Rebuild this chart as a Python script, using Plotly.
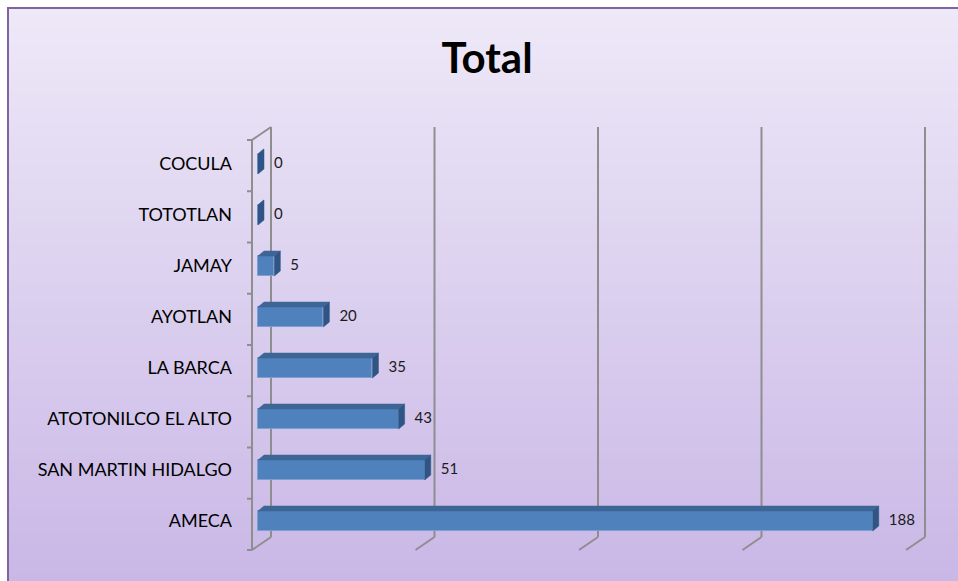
import plotly.graph_objects as go

# ---- data ----
categories = ["AMECA", "SAN MARTIN HIDALGO", "ATOTONILCO EL ALTO", "LA BARCA",
              "AYOTLAN", "JAMAY", "TOTOTLAN", "COCULA"]
values = [188, 51, 43, 35, 20, 5, 0, 0]
grid_values = [0, 50, 100, 150, 200]
title_text = "Total"

# ---- geometry (page pixels; body margin removed by post_script) ----
W, H = 958, 581
L, R, T, B = 240, 18, 100, 11
SX = 3.27      # px per value unit
SY = 51.0      # px per category step
X0 = 258       # pixel of value 0 (bar front)
Y0 = 521       # pixel of first category centre

def ux(px):
    return px / SX

def uy(px):
    return px / SY

xr = [(L - X0) / SX, (W - R - X0) / SX]
yr = [(Y0 - (H - B)) / SY, (Y0 - T) / SY]

idx = list(range(len(categories)))

BAR_H = uy(20) / 2
BDX, BDY = ux(6), uy(5)
FLOOR_FRONT_X = ux(-6)
BACK_DX = ux(13)
FRONT_BOTTOM_Y = uy(Y0 - 550)
BACK_BOTTOM_Y = uy(Y0 - 537)
BACK_TOP_Y = uy(Y0 - 127)
FRONT_TOP_Y = uy(Y0 - 140)

GRID = "#8e8e8e"
shapes = []

def fy(p):
    return ((H - B) - p) / (H - T - B)

def fx(p):
    return (p - L) / (W - L - R)

top_c = (238, 233, 248)
bot_c = (201, 183, 230)
n = 80
y_start = 7
for k in range(n):
    a = y_start + (H - y_start) * k / n
    b = y_start + (H - y_start) * (k + 1) / n + 1.5
    t = (k + 0.5) / n
    c = tuple(round(top_c[i] + (bot_c[i] - top_c[i]) * t) for i in range(3))
    shapes.append(dict(type="rect", xref="paper", yref="paper", layer="below",
                       x0=fx(7), x1=fx(W + 2), y0=fy(b), y1=fy(a),
                       line=dict(width=0), fillcolor="rgb(%d,%d,%d)" % c))
# frame (only left and top edges are visible)
FRAME = "#8064a2"
shapes.append(dict(type="line", xref="paper", yref="paper", layer="below",
                   x0=fx(8), x1=fx(8), y0=fy(H + 5), y1=fy(7),
                   line=dict(color=FRAME, width=2)))
shapes.append(dict(type="line", xref="paper", yref="paper", layer="below",
                   x0=fx(7), x1=fx(W + 5), y0=fy(8), y1=fy(8),
                   line=dict(color=FRAME, width=2)))

# gridlines (back wall + floor diagonal)
for g in grid_values:
    xb = g + BACK_DX
    xf = g + FLOOR_FRONT_X
    shapes.append(dict(type="line", xref="x", yref="y", layer="below",
                       x0=xb, x1=xb, y0=BACK_BOTTOM_Y, y1=BACK_TOP_Y,
                       line=dict(color=GRID, width=2)))
    shapes.append(dict(type="line", xref="x", yref="y", layer="below",
                       x0=xb, x1=xf, y0=BACK_BOTTOM_Y, y1=FRONT_BOTTOM_Y,
                       line=dict(color=GRID, width=2)))
shapes.append(dict(type="line", xref="x", yref="y", layer="below",
                   x0=FLOOR_FRONT_X, x1=FLOOR_FRONT_X, y0=FRONT_BOTTOM_Y, y1=FRONT_TOP_Y,
                   line=dict(color=GRID, width=2)))
shapes.append(dict(type="line", xref="x", yref="y", layer="below",
                   x0=FLOOR_FRONT_X, x1=BACK_DX, y0=FRONT_TOP_Y, y1=BACK_TOP_Y,
                   line=dict(color=GRID, width=2)))
step = (FRONT_TOP_Y - FRONT_BOTTOM_Y) / len(categories)
for k in range(len(categories) + 1):
    yy = FRONT_BOTTOM_Y + k * step
    shapes.append(dict(type="line", xref="x", yref="y", layer="below",
                       x0=FLOOR_FRONT_X - ux(5), x1=FLOOR_FRONT_X, y0=yy, y1=yy,
                       line=dict(color=GRID, width=2)))

# 3D faces of bars
top_x, top_y, side_x, side_y = [], [], [], []
for i, v in zip(idx, values):
    yt, yb = i + BAR_H, i - BAR_H
    top_x += [0, v, v + BDX, BDX, 0, None]
    top_y += [yt, yt, yt + BDY, yt + BDY, yt, None]
    side_x += [v, v, v + BDX, v + BDX, v, None]
    side_y += [yb, yt, yt + BDY, yb + BDY, yb, None]

fig = go.Figure()
fig.add_trace(go.Bar(
    y=idx, x=values, orientation="h", width=2 * BAR_H,
    marker=dict(color="#4f81bd", line=dict(color="#7d9fd0", width=1)),
    hoverinfo="skip", showlegend=False))
fig.add_trace(go.Scatter(x=top_x, y=top_y, mode="lines", fill="toself",
                         fillcolor="#3d6696", line=dict(color="#3d6696", width=0.5),
                         hoverinfo="skip", showlegend=False))
fig.add_trace(go.Scatter(x=side_x, y=side_y, mode="lines", fill="toself",
                         fillcolor="#2f5585", line=dict(color="#2f5585", width=0.5),
                         hoverinfo="skip", showlegend=False))
fig.add_trace(go.Scatter(
    x=[v + ux(16) for v in values], y=idx, mode="text",
    text=[str(v) for v in values], textposition="middle right",
    textfont=dict(family="Lato", size=15, color="#1a1a1a"),
    hoverinfo="skip", showlegend=False))

fig.update_layout(
    width=W, height=H, autosize=False,
    margin=dict(l=L, r=R, t=T, b=B, pad=0),
    paper_bgcolor="white", plot_bgcolor="rgba(0,0,0,0)",
    shapes=shapes,
    title=dict(text="<b>%s</b>" % title_text, x=487 / W, xanchor="center",
               y=1 - 58 / H, yanchor="middle",
               font=dict(family="Lato", size=42, color="black")),
    xaxis=dict(range=xr, showgrid=False, zeroline=False, showticklabels=False,
               showline=False, ticks="", fixedrange=True),
    yaxis=dict(range=yr, showgrid=False, zeroline=False, showline=False,
               tickmode="array", tickvals=idx, ticktext=categories, ticks="",
               ticklabelstandoff=7, fixedrange=True,
               tickfont=dict(family="Lato", size=18, color="black")),
    bargap=0,
)

fig.write_html(
    "out.html",
    config={"displayModeBar": False},
    post_script="document.body.style.margin='0';document.body.style.overflow='hidden';"
                "document.documentElement.style.overflow='hidden';",
)
